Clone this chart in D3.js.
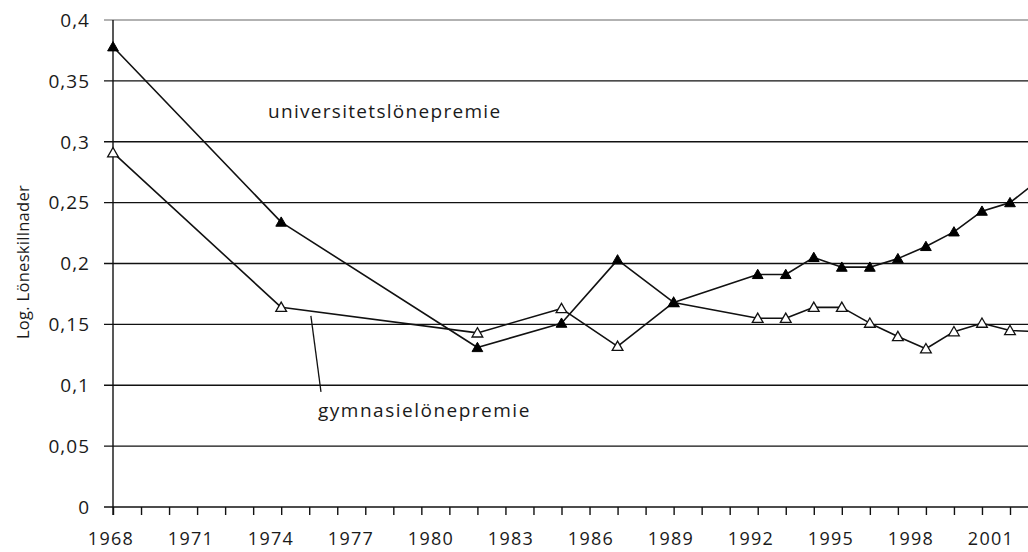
<!DOCTYPE html>
<html>
<head>
<meta charset="utf-8">
<script src="https://cdn.jsdelivr.net/npm/d3@7"></script>
<style>
  body { margin: 0; background: #fff; }
  svg { display: block; font-family: "Open Sans", sans-serif; }
</style>
</head>
<body>
<svg width="1028" height="552"></svg>
<script>
// data
var years = [1968, 1974, 1981, 1984, 1986, 1988, 1991, 1992, 1993, 1994, 1995, 1996, 1997, 1998, 1999, 2000, 2001];
var universitet = [0.378, 0.234, 0.131, 0.151, 0.203, 0.168, 0.191, 0.191, 0.205, 0.197, 0.197, 0.204, 0.214, 0.226, 0.243, 0.250, 0.268];
var gymnasie = [0.291, 0.164, 0.143, 0.163, 0.132, 0.168, 0.155, 0.155, 0.164, 0.164, 0.151, 0.140, 0.130, 0.144, 0.151, 0.145, 0.144];

var yTicks = [0, 0.05, 0.1, 0.15, 0.2, 0.25, 0.3, 0.35, 0.4];
var yTickLabels = ['0', '0,05', '0,1', '0,15', '0,2', '0,25', '0,3', '0,35', '0,4'];
var xTickLabels = [1968, 1971, 1974, 1977, 1980, 1983, 1986, 1989, 1992, 1995, 1998, 2001];
var tickYears = d3.range(1968, 2002);

var svg = d3.select('svg');
var W = +svg.attr('width');
var textColor = '#1a1a1a';

// scales
var x = d3.scaleLinear().domain([1968, 2000]).range([113, 1010]);
var y = d3.scaleLinear().domain([0, 0.4]).range([507, 20]);
// the printed year labels sit on their own, slightly tighter spacing
var xLabel = d3.scaleLinear().domain([1968, 2001]).range([111, 991]);

// horizontal grid lines
svg.append('g')
    .selectAll('line')
    .data(yTicks)
    .join('line')
    .attr('x1', 104)
    .attr('x2', W)
    .attr('y1', function(d) { return y(d); })
    .attr('y2', function(d) { return y(d); })
    .attr('stroke', function(d) { return d === 0.4 ? '#999' : '#111'; })
    .attr('stroke-width', 1.4);

// y axis line
svg.append('line')
    .attr('x1', x(1968)).attr('x2', x(1968))
    .attr('y1', y(0.4)).attr('y2', y(0) + 8)
    .attr('stroke', '#111').attr('stroke-width', 1.4);

// y tick labels
svg.append('g')
    .selectAll('text')
    .data(yTicks)
    .join('text')
    .attr('x', 90)
    .attr('y', function(d) { return y(d); })
    .attr('dy', '0.36em')
    .attr('text-anchor', 'end')
    .attr('font-size', 19)
    .attr('letter-spacing', 1)
    .attr('fill', textColor)
    .text(function(d, i) { return yTickLabels[i]; });

// x axis ticks, one per year
svg.append('g')
    .attr('transform', 'translate(0,' + y(0) + ')')
    .call(d3.axisBottom(x).tickValues(tickYears).tickSize(8).tickFormat(''))
    .call(function(g) {
        g.select('.domain').remove();
        g.selectAll('line').attr('stroke', '#111').attr('stroke-width', 1.4);
    });

// x tick labels
svg.append('g')
    .selectAll('text')
    .data(xTickLabels)
    .join('text')
    .attr('x', function(d) { return xLabel(d); })
    .attr('y', 545)
    .attr('text-anchor', 'middle')
    .attr('font-size', 18)
    .attr('letter-spacing', 1.3)
    .attr('fill', textColor)
    .text(function(d) { return d; });

// y axis title
svg.append('text')
    .attr('transform', 'translate(29,262) rotate(-90)')
    .attr('text-anchor', 'middle')
    .attr('font-size', 16.5)
    .attr('letter-spacing', 0.3)
    .attr('fill', textColor)
    .text('Log. Löneskillnader');

// lines
var line = d3.line()
    .x(function(d) { return x(d[0]); })
    .y(function(d) { return y(d[1]); });

var gymData = d3.zip(years, gymnasie);
var uniData = d3.zip(years, universitet);

[gymData, uniData].forEach(function(data) {
    svg.append('path')
        .datum(data)
        .attr('fill', 'none')
        .attr('stroke', '#111')
        .attr('stroke-width', 1.6)
        .attr('stroke-linejoin', 'round')
        .attr('d', line);
});

// triangle markers
var tri = d3.symbol().type(d3.symbolTriangle).size(50);

svg.append('g')
    .selectAll('path')
    .data(gymData)
    .join('path')
    .attr('transform', function(d) { return 'translate(' + x(d[0]) + ',' + (y(d[1]) + 1) + ')'; })
    .attr('d', tri)
    .attr('fill', '#fff')
    .attr('stroke', '#111')
    .attr('stroke-width', 1.3);

svg.append('g')
    .selectAll('path')
    .data(uniData)
    .join('path')
    .attr('transform', function(d) { return 'translate(' + x(d[0]) + ',' + (y(d[1]) + 1) + ')'; })
    .attr('d', tri)
    .attr('fill', '#000')
    .attr('stroke', '#000')
    .attr('stroke-width', 1);

// series labels
svg.append('text')
    .attr('x', 268)
    .attr('y', 118)
    .attr('font-size', 19)
    .attr('letter-spacing', 1.3)
    .attr('fill', textColor)
    .text('universitetslönepremie');

svg.append('text')
    .attr('x', 318)
    .attr('y', 417)
    .attr('font-size', 19)
    .attr('letter-spacing', 1.5)
    .attr('fill', textColor)
    .text('gymnasielönepremie');

// leader line from the gymnasie series down to its label
svg.append('line')
    .attr('x1', x(1975.06)).attr('y1', y(0.157))
    .attr('x2', x(1975.42)).attr('y2', y(0.0945))
    .attr('stroke', '#111')
    .attr('stroke-width', 1.3);
</script>
</body>
</html>
